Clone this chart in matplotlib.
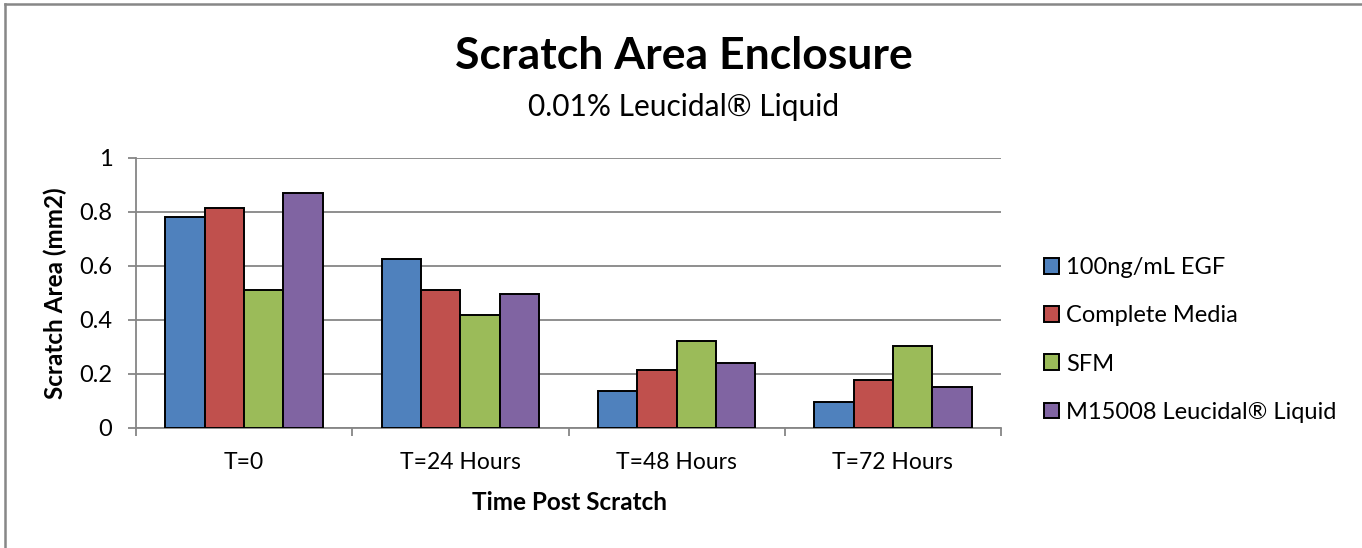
import matplotlib
matplotlib.use("Agg")
import matplotlib.pyplot as plt
from matplotlib.lines import Line2D
import numpy as np

plt.rcParams['font.family'] = ['Lato', 'DejaVu Sans']

categories = ["T=0", "T=24 Hours", "T=48 Hours", "T=72 Hours"]
series_names = ["100ng/mL EGF", "Complete Media", "SFM", "M15008 Leucidal\u00ae Liquid"]
egf = [0.78, 0.625, 0.138, 0.098]
complete_media = [0.813, 0.51, 0.213, 0.177]
sfm = [0.51, 0.42, 0.323, 0.302]
leucidal = [0.87, 0.497, 0.239, 0.153]
colors = ["#4F81BD", "#C0504D", "#9BBB59", "#8064A2"]
yticks = [0, 0.2, 0.4, 0.6, 0.8, 1]

series = [egf, complete_media, sfm, leucidal]

W, H = 1362, 548
fig = plt.figure(figsize=(W / 100, H / 100), dpi=100)
ax = fig.add_axes([136 / W, 1 - 428 / H, (1001 - 136) / W, (428 - 158) / H])

x = np.arange(len(categories))
bw = 1 / 5.5
for i, (vals, c, name) in enumerate(zip(series, colors, series_names)):
    ax.bar(x + (i - 1.5) * bw, vals, width=bw, color=c, edgecolor="black",
           linewidth=1.4, label=name, zorder=3)

grid_c = "#868686"
ax.set_xlim(-0.5, len(categories) - 0.5)
ax.set_ylim(0, 1)
ax.set_yticks(yticks)
ax.set_yticklabels(["0", "0.2", "0.4", "0.6", "0.8", "1"])
ax.yaxis.grid(True, color=grid_c, linewidth=1.3, zorder=0)
ax.set_axisbelow(True)
for s in ["top", "right"]:
    ax.spines[s].set_visible(False)
for s in ["left", "bottom"]:
    ax.spines[s].set_color(grid_c)
    ax.spines[s].set_linewidth(1.3)

ax.set_xticks(x)
ax.set_xticklabels(categories)
ax.set_xticks(np.arange(-0.5, len(categories), 1.0), minor=True)
ax.tick_params(axis="x", which="major", length=0, pad=17, labelsize=16.5)
ax.tick_params(axis="x", which="minor", length=6, width=1.3, color=grid_c, direction="out")
ax.tick_params(axis="y", which="major", length=6, width=1.3, color=grid_c, pad=11, labelsize=17)

fig.text(570 / W, 1 - 502 / H, "Time Post Scratch", ha="center", va="center",
         fontsize=17.5, fontweight="bold")
fig.text(55 / W, 1 - 293 / H, "Scratch Area (mm2)", ha="center", va="center",
         rotation=90, fontsize=17.5, fontweight="bold")

fig.text(684 / W, 1 - 56 / H, "Scratch Area Enclosure", ha="center", va="center",
         fontsize=32, fontweight="bold")
fig.text(684 / W, 1 - 107 / H, "0.01% Leucidal\u00ae Liquid", ha="center", va="center",
         fontsize=21.5)

fig.legend(loc="center left", bbox_to_anchor=(1044 / W, 1 - 340 / H), frameon=False,
           fontsize=17, handlelength=0.65, handleheight=0.65, handletextpad=0.27,
           labelspacing=1.15, borderaxespad=0, borderpad=0)

# chart border (left and top visible)
fig.add_artist(Line2D([5 / W, 5 / W], [0, 1 - 4 / H], color="#878787", linewidth=1.8,
                      transform=fig.transFigure))
fig.add_artist(Line2D([5 / W, 1], [1 - 4 / H, 1 - 4 / H], color="#878787", linewidth=1.8,
                      transform=fig.transFigure))

fig.savefig("out.png", dpi=100)
